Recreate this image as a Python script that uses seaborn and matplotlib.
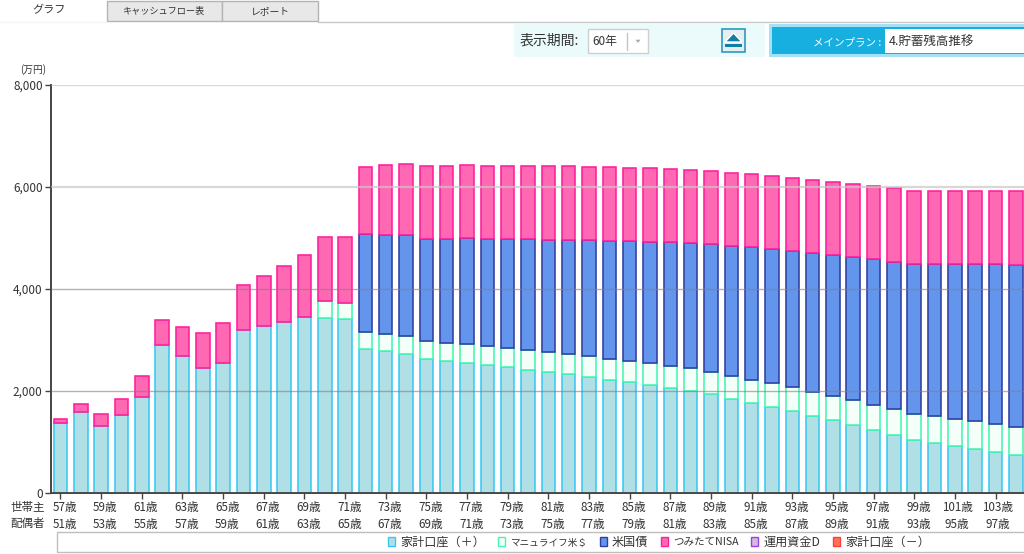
#!/usr/bin/env python3
"""Household savings projection, stacked bars by account."""

import numpy as np
import pandas as pd
import seaborn as sns
import matplotlib.pyplot as plt
from matplotlib.patches import Patch, Polygon, Rectangle
from matplotlib.transforms import ScaledTranslation

# values (万円)
ages = [f"{a}歳" for a in range(57, 105)]

cash = [1378, 1594, 1313, 1529, 1888, 2900, 2685, 2456, 2554, 3195, 3273, 3358,
        3450, 3436, 3404, 2816, 2777, 2731, 2620, 2581, 2548, 2509, 2463, 2417,
        2372, 2326, 2280, 2215, 2170, 2117, 2064, 2005, 1934, 1848, 1764, 1692,
        1607, 1516, 1425, 1333, 1235, 1137, 1039, 986, 927, 868, 810, 745]
manulife = [0, 0, 0, 0, 0, 0, 0, 0, 0, 0, 0, 0,
            0, 321, 326, 339, 346, 352, 359, 365, 379, 379, 385, 386,
            392, 405, 411, 417, 423, 424, 425, 439, 444, 451, 457, 458,
            465, 470, 476, 490, 496, 509, 509, 517, 530, 543, 549, 555]
us_bond = [0, 0, 0, 0, 0, 0, 0, 0, 0, 0, 0, 0,
           0, 0, 0, 1915, 1940, 1967, 1999, 2039, 2064, 2097, 2130, 2169,
           2201, 2228, 2268, 2313, 2346, 2385, 2424, 2456, 2502, 2542, 2594, 2632,
           2671, 2718, 2764, 2796, 2849, 2888, 2934, 2979, 3025, 3071, 3123, 3169]
nisa = [79, 156, 235, 313, 399, 484, 575, 674, 778, 882, 987, 1098,
        1215, 1261, 1288, 1327, 1366, 1405, 1438, 1431, 1431, 1431, 1431, 1437,
        1438, 1444, 1437, 1438, 1438, 1438, 1437, 1431, 1437, 1437, 1437, 1431,
        1431, 1431, 1431, 1437, 1437, 1438, 1437, 1443, 1443, 1443, 1443, 1443]

y_ticks = [0, 2000, 4000, 6000, 8000]
y_labels = ["0", "2,000", "4,000", "6,000", "8,000"]
head_ticks = ["57歳", "59歳", "61歳", "63歳", "65歳", "67歳", "69歳", "71歳",
              "73歳", "75歳", "77歳", "79歳", "81歳", "83歳", "85歳", "87歳",
              "89歳", "91歳", "93歳", "95歳", "97歳", "99歳", "101歳", "103歳"]
spouse_ticks = ["51歳", "53歳", "55歳", "57歳", "59歳", "61歳", "63歳", "65歳",
                "67歳", "69歳", "71歳", "73歳", "75歳", "77歳", "79歳", "81歳",
                "83歳", "85歳", "87歳", "89歳", "91歳", "93歳", "95歳", "97歳"]

series = [
    ("家計口座（＋）", cash, "#B0DFE5", "#38C8F5"),
    ("マニュライフ米＄", manulife, "#F5FFFA", "#45F5B0"),
    ("米国債", us_bond, "#6495ED", "#2F3F9F"),
    ("つみたてNISA", nisa, "#FF69B4", "#FF1E9A"),
]
legend_only = [
    ("運用資金D", "#D0BCDC", "#A040E0"),
    ("家計口座（－）", "#FF7060", "#FF4030"),
]

TEXT = "#333333"

sns.set_theme(style="white")
plt.rcParams['font.family'] = ['Noto Sans CJK JP', 'DejaVu Sans']

W, H = 1024, 554
fig = plt.figure(figsize=(W / 100, H / 100), dpi=100)

# window chrome, in pixel coordinates
ui = fig.add_axes([0, 0, 1, 1], zorder=0)
ui.set_xlim(0, W)
ui.set_ylim(H, 0)
ui.axis("off")


def box(x0, y0, x1, y1, face, edge="none", lw=1.0):
    ui.add_patch(Rectangle((x0, y0), x1 - x0, y1 - y0, facecolor=face, edgecolor=edge, linewidth=lw))


ui.plot([318, W], [21.5, 21.5], color="#C8C8C8", lw=1)
ui.plot([0, 107], [21.5, 21.5], color="#F4F4F4", lw=1)
box(107, 0.5, 222, 21, "#E8E8E8", "#B4B4B4")
box(222, 0.5, 318, 21, "#E8E8E8", "#B4B4B4")
ui.text(49, 10, "グラフ", ha="center", va="center", fontsize=8, color=TEXT)
ui.text(163, 11, "キャッシュフロー表", ha="center", va="center", fontsize=6.6, color=TEXT)
ui.text(270, 11, "レポート", ha="center", va="center", fontsize=7, color=TEXT)

box(514, 24, 765, 57, "#EBFBFB")
ui.text(520, 41, "表示期間:", ha="left", va="center", fontsize=10, color=TEXT)
box(588, 29, 648, 53, "white", "#CFCFCF")
ui.plot([627, 627], [33, 50], color="#C4C4C4", lw=1)
ui.text(592, 41, "60年", ha="left", va="center", fontsize=8.5, color=TEXT)
ui.add_patch(Polygon([[634, 39], [642, 39], [638, 44]], facecolor="#A8A8A8"))
box(722, 29, 745, 52, "#E6EEF0", "#2A9ABF", 1.2)
ui.add_patch(Polygon([[733.5, 33], [742, 42], [725, 42]], facecolor="#0F7FA8"))
box(725, 44, 742, 47, "#0F7FA8")

box(769, 24, W, 57, "#A6E0F5")
box(772, 27, W, 54, "#17AEE0")
box(885, 29, W, 53, "white")
ui.text(813, 42, "メインプラン :", ha="left", va="center", fontsize=7.6, color="white")
ui.text(889, 41, "4.貯蓄残高推移", ha="left", va="center", fontsize=9, color=TEXT)

ui.text(33, 70, "(万円)", ha="center", va="center", fontsize=7, color=TEXT)
ui.text(28, 507, "世帯主", ha="center", va="center", fontsize=8.3, color=TEXT)
ui.text(28, 523, "配偶者", ha="center", va="center", fontsize=8.3, color=TEXT)
box(57, 532, W + 5, 552, "white", "#BEBEBE")

# chart area
ax = fig.add_axes([51 / W, 1 - 493 / H, (W - 51) / W, (493 - 85) / H], zorder=1)
ax.patch.set_alpha(0)

bottom = np.zeros(len(ages))
for name, values, face, edge in series:
    df = pd.DataFrame({"age": ages, "value": values})
    mask = df["value"].to_numpy() > 0
    sns.barplot(
        data=df[mask],
        x="age",
        y="value",
        order=ages,
        color=face,
        saturation=1,
        width=0.665,
        edgecolor=edge,
        linewidth=1.15,
        bottom=bottom[mask],
        ax=ax,
    )
    bottom = bottom + np.array(values)

ax.set_xlim(-0.467, 47.4)
ax.set_ylim(0, 8000)
ax.set_xlabel("")
ax.set_ylabel("")

ax.set_xticks(range(0, len(ages), 2))
ax.set_xticklabels(
    [f"{a}\n{b}" for a, b in zip(head_ticks, spouse_ticks)],
    fontsize=8.4, color=TEXT, linespacing=1.38,
)
ax.set_yticks(y_ticks)
ax.set_yticklabels(y_labels, fontsize=8.5, color=TEXT)
ax.tick_params(axis="both", bottom=True, left=True, length=4, width=1, color="#444444", pad=2)

# the age labels sit a little right of their ticks
for label in ax.get_xticklabels():
    shift = 1.5 if len(label.get_text().split("\n")[0]) > 3 else 3
    label.set_transform(label.get_transform() + ScaledTranslation(shift / 72, 0, fig.dpi_scale_trans))

# gridlines sit over the bars
ax.set_axisbelow(False)
ax.yaxis.grid(True, color="#808080", lw=1, alpha=0.6)
for line, tick in zip(ax.get_ygridlines(), y_ticks):
    if tick >= 6000:
        line.set(color="#C8C8C8", lw=1.6, alpha=0.7)

for side in ["top", "right"]:
    ax.spines[side].set_visible(False)
for side in ["left", "bottom"]:
    ax.spines[side].set(color="#444444", linewidth=1.4, visible=True)

handles = [Patch(facecolor=face, edgecolor=edge, label=name) for name, _, face, edge in series]
handles += [Patch(facecolor=face, edgecolor=edge, label=name) for name, face, edge in legend_only]
leg = fig.legend(
    handles=handles,
    loc="center",
    bbox_to_anchor=(659 / W, 1 - 542 / H),
    ncol=6,
    frameon=False,
    fontsize=8.7,
    handlelength=0.6,
    handleheight=0.75,
    handletextpad=0.41,
    columnspacing=1.05,
    labelcolor=TEXT,
)
# the katakana and latin labels run narrower in the original
leg.get_texts()[1].set_fontsize(6.9)
leg.get_texts()[3].set_fontsize(7.6)

fig.savefig("out.png", dpi=100)
